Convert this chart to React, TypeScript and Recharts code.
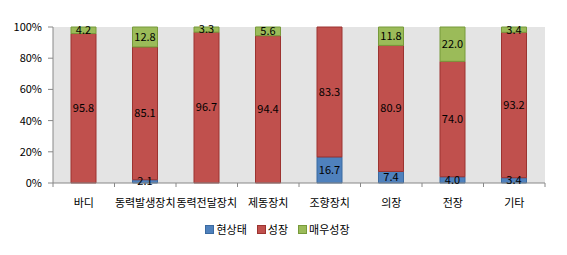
import React from "react";
import {
  BarChart,
  Bar,
  XAxis,
  YAxis,
  CartesianGrid,
  Legend,
  LabelList,
} from "recharts";

const categories = ["바디", "동력발생장치", "동력전달장치", "제동장치", "조향장치", "의장", "전장", "기타"];
const current = [0, 2.1, 0, 0, 16.7, 7.4, 4.0, 3.4];
const growth = [95.8, 85.1, 96.7, 94.4, 83.3, 80.9, 74.0, 93.2];
const highGrowth = [4.2, 12.8, 3.3, 5.6, 0, 11.8, 22.0, 3.4];
const yTicks = [0, 20, 40, 60, 80, 100];

const seriesNames = ["현상태", "성장", "매우성장"];
const seriesColors = ["#4f81bd", "#c0504d", "#9bbb59"];
const seriesStrokes = ["#3b6aa0", "#9c3330", "#779a3a"];

const data = categories.map((name, i) => ({
  name,
  현상태: current[i],
  성장: growth[i],
  매우성장: highGrowth[i],
}));

const FONT = "'Noto Sans CJK KR', sans-serif";
const PLOT_W = 492;
const HALF_BAND = PLOT_W / categories.length / 2;

const fmt = (v: any) => (v && Number(v) > 0 ? Number(v).toFixed(1) : "");

const CatTick = (props: any) => {
  const { x, y, payload, index } = props;
  return (
    <g>
      <line x1={x + HALF_BAND} y1={y - 8} x2={x + HALF_BAND} y2={y - 4} stroke="#888" />
      {index === 0 && (
        <line x1={x - HALF_BAND} y1={y - 8} x2={x - HALF_BAND} y2={y - 4} stroke="#888" />
      )}
      <text x={x} y={y + 16} textAnchor="middle" fontSize={11} fill="#000" fontFamily={FONT}>
        {payload.value}
      </text>
    </g>
  );
};

const LegendContent = () => (
  <div
    style={{
      display: "flex",
      justifyContent: "center",
      gap: 10,
      paddingTop: 8,
      paddingLeft: 10,
      fontSize: 11,
      fontFamily: FONT,
      color: "#000",
    }}
  >
    {seriesNames.map((n, i) => (
      <span key={n} style={{ display: "flex", alignItems: "center", gap: 2 }}>
        <span
          style={{
            display: "inline-block",
            width: 7,
            height: 7,
            background: seriesColors[i],
            border: `1px solid ${seriesStrokes[i]}`,
          }}
        />
        {n}
      </span>
    ))}
  </div>
);

const App: React.FC = () => {
  return (
    <div style={{ position: "absolute", left: 0, top: 0, background: "#fff" }}>
      <BarChart
        width={567}
        height={255}
        data={data}
        stackOffset="expand"
        barSize={25}
        margin={{ top: 27, right: 22, left: 0, bottom: 0 }}
      >
        <CartesianGrid fill="#e4e4e4" horizontal={false} vertical={false} />
        <XAxis
          dataKey="name"
          interval={0}
          tickLine={false}
          stroke="#888"
          height={30}
          tick={<CatTick />}
        />
        <YAxis
          width={53}
          ticks={yTicks.map((t) => t / 100)}
          domain={[0, 1]}
          tickFormatter={(v: number) => `${Math.round(v * 100)}%`}
          stroke="#888"
          tickSize={5}
          tickMargin={6}
          tick={{ fill: "#000", fontSize: 11, fontFamily: FONT }}
        />
        <Legend wrapperStyle={{ height: 42 }} content={<LegendContent />} />
        {seriesNames.map((n, i) => (
          <Bar
            key={n}
            dataKey={n}
            stackId="a"
            fill={seriesColors[i]}
            stroke={seriesStrokes[i]}
            isAnimationActive={false}
          >
            <LabelList dataKey={n} position="center" formatter={fmt} fill="#000" fontSize={11} fontFamily={FONT} />
          </Bar>
        ))}
      </BarChart>
    </div>
  );
};

export default App;
